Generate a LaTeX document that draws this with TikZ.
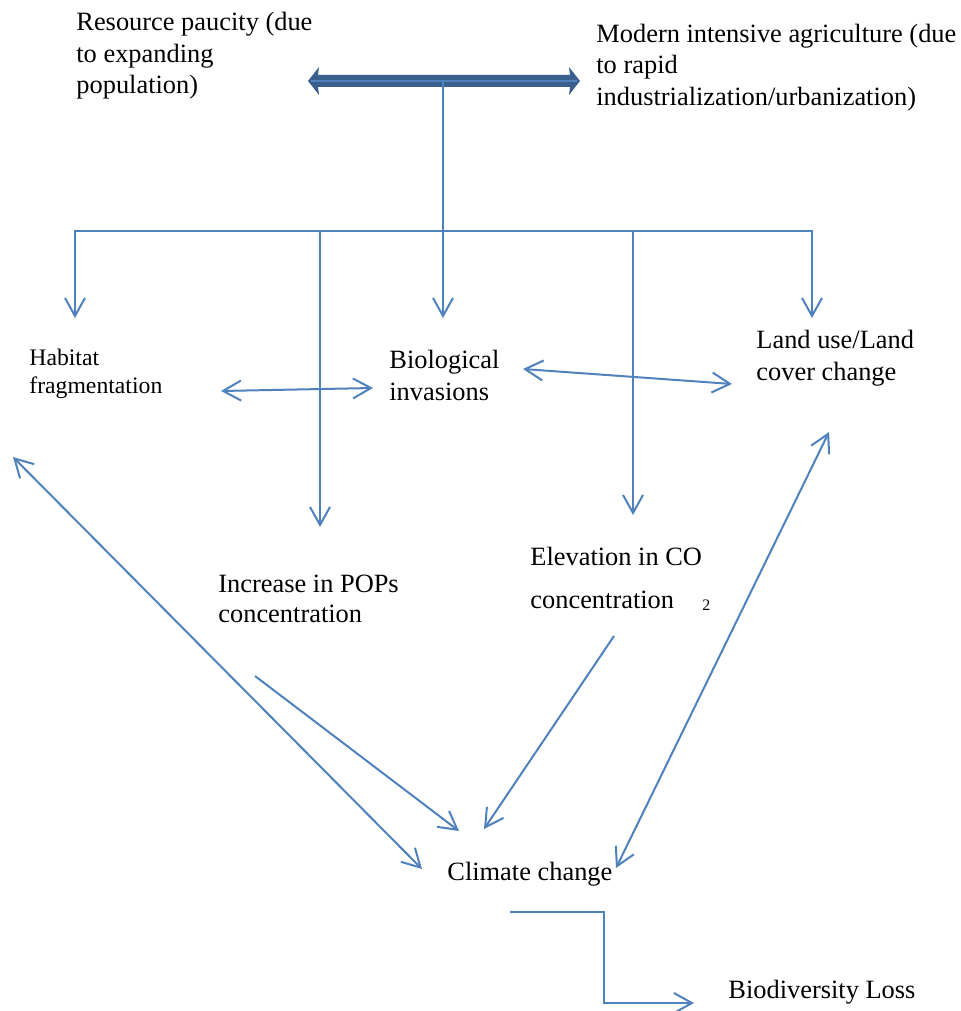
\documentclass[tikz,border=0pt]{standalone}
\usepackage{fontspec}
\setmainfont{Liberation Serif}
\usetikzlibrary{arrows.meta}
\definecolor{lblue}{RGB}{79,129,189}
\definecolor{dblue}{RGB}{58,95,142}
\tikzset{
  plain/.style={draw=lblue, line width=1pt},
  conn/.style={plain, -{Straight Barb[length=9pt,width=10pt]}},
  both/.style={plain, {Straight Barb[length=9pt,width=10pt]}-{Straight Barb[length=9pt,width=10pt]}},
  lbl/.style={inner sep=0pt, anchor=base west, align=left, font=\fontsize{13.2}{15.75}\selectfont},
  small/.style={lbl, font=\fontsize{11.85}{14}\selectfont}
}
\begin{document}
\begin{tikzpicture}[x=0.5pt,y=-0.5pt]
\useasboundingbox (0,0) rectangle (961,1011);
% text nodes (anchored at the baseline of their last line)
\node[lbl] (res) at (76,94) {Resource paucity (due\\to expanding\\population)};
\node[lbl] (mod) at (596,105) {Modern intensive agriculture (due\\to rapid\\industrialization/urbanization)};
\node[small] (hab) at (29,393) {Habitat\\fragmentation};
\node[lbl] (bio) at (389,400) {Biological\\invasions};
\node[lbl] (land) at (756,380) {Land use/Land\\cover change};
\node[lbl, font=\fontsize{13.2}{15}\selectfont] (pop) at (218,622) {Increase in POPs\\concentration};
\node[lbl, font=\fontsize{13.2}{21.5}\selectfont] (co2) at (530,608) {Elevation in CO\\concentration};
\node[inner sep=0pt, anchor=base west, font=\fontsize{8}{9}\selectfont] (sub) at (702,610) {2};
\node[lbl] (clim) at (447,880) {Climate change};
\node[lbl] (bdl) at (728,998) {Biodiversity Loss};
% coordinates
\coordinate (topL) at (308,81);
\coordinate (topR) at (580,81);
\coordinate (topM) at (443,81);
\coordinate (bioIn) at (443,318);
\coordinate (busL) at (75,231);
\coordinate (busR) at (812,231);
\coordinate (habIn) at (75,318);
\coordinate (landIn) at (812,318);
\coordinate (b320) at (320,231);
\coordinate (popIn) at (320,527);
\coordinate (b633) at (633,231);
\coordinate (co2In) at (633,515);
\coordinate (hbR) at (221,391);
\coordinate (bhL) at (373,388);
\coordinate (blR) at (523,369);
\coordinate (lbL) at (732,384);
\coordinate (habOut) at (13,457);
\coordinate (climHab) at (422,869);
\coordinate (landOut) at (829,432);
\coordinate (climLand) at (616,868);
\coordinate (popOut) at (255,676);
\coordinate (climPop) at (459,831);
\coordinate (co2Out) at (614,636);
\coordinate (climCo2) at (484,829);
\coordinate (climOut) at (510,912);
\coordinate (elbow1) at (604,912);
\coordinate (elbow2) at (604,1003);
\coordinate (bdlIn) at (694,1003);
% top block double arrow
\fill[dblue] (topL) -- (319,67) -- (318,75) -- (570,75) -- (569,67) -- (topR)
  -- (569,95) -- (570,87) -- (318,87) -- (319,95) -- cycle;
\draw[lblue, line width=0.8pt] ([xshift=1.5pt]topL) -- ([xshift=-1.5pt]topR);
% tree
\draw[conn] (topM) -- (bioIn);
\draw[plain, line cap=rect] (busL) -- (busR);
\draw[conn] (busL) -- (habIn);
\draw[conn] (busR) -- (landIn);
\draw[conn] (b320) -- (popIn);
\draw[conn] (b633) -- (co2In);
% mutual links
\draw[both] (hbR) -- (bhL);
\draw[both] (blR) -- (lbL);
\draw[both] (habOut) -- (climHab);
\draw[both] (landOut) -- (climLand);
\draw[conn] (popOut) -- (climPop);
\draw[conn] (co2Out) -- (climCo2);
\draw[conn] (climOut) -- (elbow1) -- (elbow2) -- (bdlIn);
\end{tikzpicture}
\end{document}
